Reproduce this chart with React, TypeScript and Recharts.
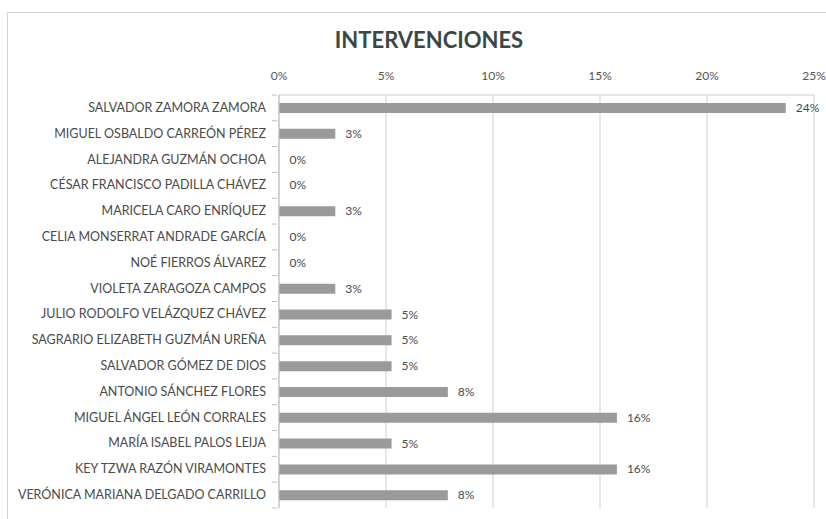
import React from "react";
import { BarChart, Bar, XAxis, YAxis, CartesianGrid, LabelList, Cell } from "recharts";

const names = [
  "SALVADOR ZAMORA ZAMORA",
  "MIGUEL OSBALDO CARREÓN PÉREZ",
  "ALEJANDRA GUZMÁN OCHOA",
  "CÉSAR FRANCISCO PADILLA CHÁVEZ",
  "MARICELA CARO ENRÍQUEZ",
  "CELIA MONSERRAT ANDRADE GARCÍA",
  "NOÉ FIERROS ÁLVAREZ",
  "VIOLETA ZARAGOZA CAMPOS",
  "JULIO RODOLFO VELÁZQUEZ CHÁVEZ",
  "SAGRARIO ELIZABETH GUZMÁN UREÑA",
  "SALVADOR GÓMEZ DE DIOS",
  "ANTONIO SÁNCHEZ FLORES",
  "MIGUEL ÁNGEL LEÓN CORRALES",
  "MARÍA ISABEL PALOS LEIJA",
  "KEY TZWA RAZÓN VIRAMONTES",
  "VERÓNICA MARIANA DELGADO CARRILLO",
];

const shares = [
  0.2368, 0.0263, 0, 0, 0.0263, 0, 0, 0.0263, 0.0526, 0.0526, 0.0526, 0.0789,
  0.1579, 0.0526, 0.1579, 0.0789,
];

const xTicks = [0, 0.05, 0.1, 0.15, 0.2, 0.25];

const title = "INTERVENCIONES";

const data = names.map((n, i) => ({ name: n, value: shares[i] }));

const FONT = "Lato, 'Open Sans', sans-serif";
const TEXT = "#4a4a4a";
const BAR = "#9a9a9a";

const pct = (v: number) => `${Math.round(v * 100)}%`;

const CategoryTick = (props: any) => {
  const { x, y, payload, index } = props;
  const axisX = x + 8;
  const half = 12.9;
  return (
    <g>
      {index === 0 && (
        <line x1={axisX - 5} x2={axisX} y1={y - half} y2={y - half} stroke="#bdbdbd" />
      )}
      <line x1={axisX - 5} x2={axisX} y1={y + half} y2={y + half} stroke="#bdbdbd" />
      <text
        x={x - 3}
        y={y}
        dy={4}
        textAnchor="end"
        fill={TEXT}
        fontSize={12.5}
        fontFamily={FONT}
      >
        {payload.value}
      </text>
    </g>
  );
};

const ValueLabel = (props: any) => {
  const { x, y, width, height, value } = props;
  return (
    <text
      x={Number(x) + Number(width) + 10}
      y={Number(y) + Number(height) / 2}
      dy={4}
      textAnchor="start"
      fill={TEXT}
      fontSize={12}
      fontFamily={FONT}
    >
      {pct(Number(value))}
    </text>
  );
};

export default function App() {
  return (
    <div
      style={{
        position: "absolute",
        left: 0,
        top: 0,
        width: 826,
        height: 519,
        background: "#ffffff",
        overflow: "hidden",
        fontFamily: FONT,
      }}
    >
      <div
        style={{
          position: "absolute",
          left: 7,
          top: 12,
          width: 830,
          height: 520,
          borderTop: "1px solid #d4d4d4",
          borderLeft: "1px solid #d4d4d4",
        }}
      />
      <div
        style={{
          position: "absolute",
          left: 0,
          top: 26,
          width: 858,
          textAlign: "center",
          fontSize: 22,
          fontWeight: 700,
          color: "#3b4747",
          fontFamily: FONT,
        }}
      >
        {title}
      </div>
      <BarChart
        width={826}
        height={519}
        data={data}
        layout="vertical"
        margin={{ top: 60, right: 12, bottom: 11, left: 0 }}
        style={{ position: "absolute", left: 0, top: 0 }}
      >
        <CartesianGrid horizontal={false} stroke="#cfcfcf" />
        <XAxis
          type="number"
          orientation="top"
          domain={[0, 0.25]}
          ticks={xTicks}
          height={35}
          tickFormatter={pct}
          axisLine={{ stroke: "#cfcfcf" }}
          tickLine={false}
          tickMargin={9}
          tick={{ fill: "#555", fontSize: 12, fontFamily: FONT }}
          interval={0}
        />
        <YAxis
          type="category"
          dataKey="name"
          width={279}
          axisLine={{ stroke: "#bdbdbd" }}
          tickLine={false}
          tickMargin={4}
          interval={0}
          tick={<CategoryTick />}
        />
        <Bar
          dataKey="value"
          fill={BAR}
          barSize={10}
          minPointSize={0.5}
          isAnimationActive={false}
        >
          {data.map((d, i) => (
            <Cell key={i} fill={d.value === 0 ? "transparent" : BAR} />
          ))}
          <LabelList dataKey="value" content={<ValueLabel />} />
        </Bar>
      </BarChart>
    </div>
  );
}
